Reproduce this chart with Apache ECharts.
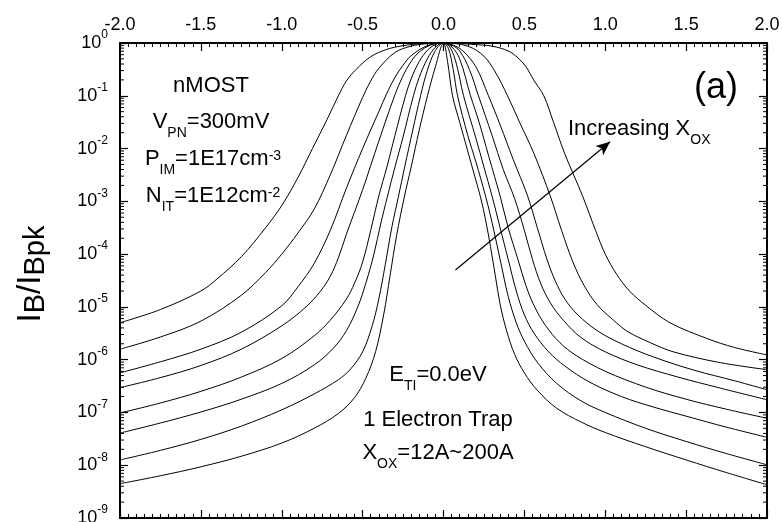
<!DOCTYPE html>
<html>
<head>
<meta charset="utf-8">
<script src="https://cdn.jsdelivr.net/npm/echarts@6/dist/echarts.min.js"></script>
<style>
  html, body { margin: 0; padding: 0; background: #fff; }
  #chart { width: 782px; height: 522px; }
</style>
</head>
<body>
<div id="chart"></div>
<script>
// Normalised bulk current I_B/I_Bpk versus V (one curve per oxide thickness,
// widest curve = thickest oxide). Points are [V, I_B/I_Bpk].
const trap1 = [[-2,5.01e-6],[-1.75,8.91e-6],[-1.5,2.00e-5],[-1.4,3.39e-5],[-1.25,8.91e-5],[-1.1,3.16e-4],[-1.0,8.32e-4],[-0.9,2.82e-3],[-0.81,1.0e-2],[-0.72,3.55e-2],[-0.65,0.1],[-0.6,0.191],[-0.54,0.316],[-0.45,0.55],[-0.35,0.759],[-0.25,0.891],[-0.15,0.966],[0,1],
  [0.1,0.977],[0.2,0.933],[0.3,0.871],[0.4,0.708],[0.46,0.525],[0.51,0.355],[0.557,0.2],[0.62,0.1],[0.68,3.16e-2],[0.75,7.94e-3],[0.86,1.26e-3],[0.94,2.82e-4],[1.0,1.0e-4],[1.07,4.17e-5],[1.15,2.0e-5],[1.25,1.07e-5],[1.4,5.01e-6],[1.63,2.51e-6],[1.8,1.70e-6],[2,1.23e-6]];
const trap2 = [[-2,1.58e-6],[-1.75,2.69e-6],[-1.5,5.37e-6],[-1.25,1.66e-5],[-1.1,4.47e-5],[-1.0,1.0e-4],[-0.9,2.51e-4],[-0.8,7.08e-4],[-0.7,3.16e-3],[-0.6,1.78e-2],[-0.5,9.33e-2],[-0.45,0.191],[-0.4,0.331],[-0.3,0.661],[-0.2,0.871],[-0.1,0.973],[0,1],
  [0.15,0.871],[0.25,0.562],[0.32,0.282],[0.396,0.1],[0.47,3.16e-2],[0.56,7.94e-3],[0.66,1.26e-3],[0.73,2.82e-4],[0.8,7.08e-5],[0.87,2.51e-5],[0.95,1.10e-5],[1.05,5.62e-6],[1.14,3.39e-6],[1.28,2.09e-6],[1.42,1.41e-6],[1.7,8.91e-7],[2,6.46e-7]];
const trap3 = [[-2,5.62e-7],[-1.75,9.12e-7],[-1.5,1.58e-6],[-1.25,3.31e-6],[-1.0,1.05e-5],[-0.9,2.40e-5],[-0.8,6.61e-5],[-0.7,2.82e-4],[-0.6,1.78e-3],[-0.5,1.0e-2],[-0.4,5.01e-2],[-0.35,0.112],[-0.3,0.224],[-0.25,0.38],[-0.2,0.575],[-0.1,0.891],[0,1],
  [0.06,0.912],[0.12,0.708],[0.2,0.355],[0.278,0.1],[0.35,2.82e-2],[0.43,6.31e-3],[0.52,1.26e-3],[0.58,3.16e-4],[0.64,7.94e-5],[0.69,3.16e-5],[0.75,1.41e-5],[0.83,7.08e-6],[0.95,3.55e-6],[1.1,2.0e-6],[1.3,1.12e-6],[1.55,6.31e-7],[1.8,3.98e-7],[2,2.69e-7]];
const trap4 = [[-2,2.95e-7],[-1.75,4.57e-7],[-1.5,7.76e-7],[-1.25,1.58e-6],[-1.0,4.37e-6],[-0.85,1.0e-5],[-0.76,2.0e-5],[-0.7,3.80e-5],[-0.65,8.51e-5],[-0.6,2.40e-4],[-0.5,1.66e-3],[-0.4,1.38e-2],[-0.3,0.105],[-0.25,0.24],[-0.2,0.447],[-0.15,0.676],[-0.08,0.912],[0,1],
  [0.05,0.912],[0.1,0.708],[0.16,0.316],[0.216,0.1],[0.3,1.78e-2],[0.37,3.98e-3],[0.44,1.12e-3],[0.5,2.82e-4],[0.55,7.94e-5],[0.6,2.82e-5],[0.66,1.20e-5],[0.74,5.62e-6],[0.85,2.63e-6],[1.0,1.41e-6],[1.2,7.94e-7],[1.45,4.68e-7],[1.7,2.95e-7],[2,1.74e-7]];
const trap5 = [[-2,9.77e-8],[-1.75,1.51e-7],[-1.5,2.51e-7],[-1.25,4.68e-7],[-1.0,1.05e-6],[-0.8,2.82e-6],[-0.7,5.62e-6],[-0.6,1.41e-5],[-0.55,2.82e-5],[-0.5,7.08e-5],[-0.45,2.82e-4],[-0.4,1.26e-3],[-0.35,4.47e-3],[-0.3,1.78e-2],[-0.235,0.1],[-0.2,0.209],[-0.15,0.447],[-0.1,0.724],[-0.05,0.933],[0,1],
  [0.05,0.851],[0.1,0.501],[0.167,0.1],[0.22,3.16e-2],[0.28,7.08e-3],[0.35,1.26e-3],[0.4,3.16e-4],[0.46,7.94e-5],[0.51,2.51e-5],[0.56,1.05e-5],[0.63,4.47e-6],[0.72,2.09e-6],[0.82,1.20e-6],[1.0,6.03e-7],[1.25,3.02e-7],[1.5,1.78e-7],[1.75,1.15e-7],[2,7.76e-8]];
const trap6 = [[-2,4.07e-8],[-1.75,6.31e-8],[-1.5,1.02e-7],[-1.25,1.78e-7],[-1.0,3.55e-7],[-0.8,7.94e-7],[-0.68,1.66e-6],[-0.6,3.55e-6],[-0.53,1.0e-5],[-0.48,2.82e-5],[-0.43,1.0e-4],[-0.39,3.55e-4],[-0.346,1.26e-3],[-0.3,4.47e-3],[-0.25,1.66e-2],[-0.186,0.1],[-0.15,0.224],[-0.1,0.501],[-0.05,0.832],[0,1],
  [0.04,0.832],[0.08,0.398],[0.124,0.1],[0.2,1.58e-2],[0.25,4.47e-3],[0.3,1.26e-3],[0.35,3.16e-4],[0.4,7.94e-5],[0.45,2.0e-5],[0.5,7.08e-6],[0.56,3.16e-6],[0.65,1.41e-6],[0.75,7.59e-7],[0.9,3.80e-7],[1.1,2.0e-7],[1.3,1.26e-7],[1.5,8.51e-8],[1.75,5.25e-8],[2,3.39e-8]];
const trap7 = [[-2,1.26e-8],[-1.75,1.91e-8],[-1.5,3.09e-8],[-1.25,5.50e-8],[-1.0,1.12e-7],[-0.8,2.24e-7],[-0.65,4.17e-7],[-0.575,6.61e-7],[-0.5,1.41e-6],[-0.44,4.47e-6],[-0.4,1.41e-5],[-0.36,6.31e-5],[-0.32,3.16e-4],[-0.278,1.26e-3],[-0.24,4.47e-3],[-0.19,2.24e-2],[-0.142,0.1],[-0.1,0.302],[-0.05,0.724],[0,1],
  [0.03,0.794],[0.06,0.316],[0.087,0.1],[0.15,1.78e-2],[0.2,5.62e-3],[0.26,1.26e-3],[0.3,3.98e-4],[0.35,7.94e-5],[0.4,1.58e-5],[0.45,5.01e-6],[0.5,2.24e-6],[0.58,8.91e-7],[0.7,3.55e-7],[0.85,1.66e-7],[1.0,1.0e-7],[1.25,5.01e-8],[1.5,2.82e-8],[1.75,1.66e-8],[2,1.02e-8]];
const trap8 = [[-2,4.47e-9],[-1.75,6.31e-9],[-1.5,9.33e-9],[-1.25,1.48e-8],[-1.0,2.63e-8],[-0.8,5.01e-8],[-0.65,9.55e-8],[-0.55,1.91e-7],[-0.48,4.47e-7],[-0.42,1.41e-6],[-0.37,7.08e-6],[-0.33,3.98e-5],[-0.29,2.24e-4],[-0.241,1.26e-3],[-0.2,4.47e-3],[-0.15,2.24e-2],[-0.099,0.1],[-0.05,0.355],[0,1],
  [0.025,0.447],[0.056,0.1],[0.1,3.16e-2],[0.15,8.91e-3],[0.2,2.51e-3],[0.229,1.20e-3],[0.26,4.47e-4],[0.29,1.41e-4],[0.32,3.98e-5],[0.35,1.12e-5],[0.39,3.55e-6],[0.44,1.26e-6],[0.5,5.62e-7],[0.58,2.63e-7],[0.7,1.20e-7],[0.85,6.61e-8],[1.0,4.17e-8],[1.25,2.24e-8],[1.5,1.26e-8],[1.75,7.24e-9],[2,4.27e-9]];

const curves = [trap1, trap2, trap3, trap4, trap5, trap6, trap7, trap8];

// "Increasing X_OX" arrow, from tail to head, in data coordinates.
const arrowTail = [0.074, 5.0e-5];
const arrowHead = [1.03, 1.35e-2];

// Axis ranges.
const xRange = [-2, 2];
const yRange = [1e-9, 1];
const yMantissas = [2, 3, 4, 5, 6, 7, 8, 9];

// Positions of the log-axis minor ticks (2..9 x 10^n inside every decade).
const minorTickValues = [];
for (let e = -9; e < 0; e++) {
  yMantissas.forEach(m => minorTickValues.push([xRange[0], Number((m * Math.pow(10, e)).toPrecision(3))]));
}

const FONT = "'Liberation Sans', Arial, Helvetica, sans-serif";
const INK = '#000';

const frameLine = { show: true, onZero: false, lineStyle: { color: INK, width: 2 } };

const xBase = {
  type: 'value', min: xRange[0], max: xRange[1], interval: 0.5,
  axisLine: frameLine,
  splitLine: { show: false },
  axisTick: { show: true, inside: true, length: 8, lineStyle: { color: INK, width: 1.2 } },
  minorTick: { show: true, splitNumber: 10, length: 4, lineStyle: { color: INK, width: 1 } }
};

const yBase = {
  type: 'log', logBase: 10, min: yRange[0], max: yRange[1], splitNumber: 9,
  axisLine: frameLine,
  splitLine: { show: false },
  minorTick: { show: false },
  axisTick: { show: true, inside: true, length: 8, lineStyle: { color: INK, width: 1.2 } }
};

// Rich-text styles for sub/superscripts.
const mainStyle = (size) => ({ fontSize: size, fontFamily: FONT, color: INK });
const subStyle = (size, drop) => ({ fontSize: size, fontFamily: FONT, color: INK, padding: [drop * 2, 0, 0, 0] });
const supStyle = (size, lift) => ({ fontSize: size, fontFamily: FONT, color: INK, padding: [0, 0, lift * 2, 0] });

const noteRich = { m: mainStyle(22), s: subStyle(14, 11), p: supStyle(14, 3) };

function note(x, y, text, align) {
  return {
    type: 'text', x, y, silent: true,
    style: { text, rich: noteRich, align: align || 'center', verticalAlign: 'middle', fill: INK, font: `22px ${FONT}` }
  };
}

const chart = echarts.init(document.getElementById('chart'), null, { renderer: 'canvas' });

chart.setOption({
  animation: false,
  backgroundColor: '#fff',
  grid: { left: 120, right: 15, top: 43, bottom: 4, containLabel: false, outerBoundsMode: 'none' },
  xAxis: [
    Object.assign({}, xBase, { position: 'bottom', axisLabel: { show: false } }),
    Object.assign({}, xBase, {
      position: 'top',
      axisLabel: { show: true, formatter: v => v.toFixed(1), fontSize: 18, fontFamily: FONT, color: INK, margin: 9 }
    })
  ],
  yAxis: [
    Object.assign({}, yBase, {
      position: 'left',
      axisLabel: {
        show: true, margin: 12,
        formatter: v => `{b|10}{s|${Math.round(Math.log10(v))}}`,
        rich: { b: mainStyle(18), s: supStyle(12, 8) }
      }
    }),
    Object.assign({}, yBase, { position: 'right', axisLabel: { show: false } })
  ],
  series: curves.map((data, i) => ({
    type: 'line', name: 'trap' + (i + 1), data,
    xAxisIndex: 0, yAxisIndex: 0,
    showSymbol: false, symbol: 'none', smooth: 0.35, clip: true, silent: true,
    lineStyle: { color: INK, width: 1 },
    markLine: i === 0 ? {
      silent: true, symbol: ['none', 'arrow'], symbolSize: [9, 14],
      lineStyle: { color: INK, width: 1.2, type: 'solid' },
      label: { show: false },
      data: [[{ coord: arrowTail }, { coord: arrowHead }]]
    } : undefined
  })).concat([{
    // log minor ticks on the left and right frame edges
    type: 'custom', xAxisIndex: 0, yAxisIndex: 0, silent: true, clip: false,
    data: minorTickValues,
    encode: { x: 0, y: 1 },
    renderItem(params, api) {
      const v = api.value(1);
      const l = api.coord([xRange[0], v]);
      const r = api.coord([xRange[1], v]);
      return {
        type: 'group', children: [
          { type: 'line', shape: { x1: l[0], y1: l[1], x2: l[0] + 4, y2: l[1] }, style: { stroke: INK, lineWidth: 1 } },
          { type: 'line', shape: { x1: r[0] - 4, y1: r[1], x2: r[0], y2: r[1] }, style: { stroke: INK, lineWidth: 1 } }
        ]
      };
    }
  }]),
  graphic: [
    note(211, 86, '{m|nMOST}'),
    note(211, 122, '{m|V}{s|PN}{m|=300mV}'),
    note(213, 159, '{m|P}{s|IM}{m|=1E17cm}{p|-3}'),
    note(213, 196, '{m|N}{s|IT}{m|=1E12cm}{p|-2}'),
    note(438, 375, '{m|E}{s|TI}{m|=0.0eV}'),
    note(438, 420, '{m|1 Electron Trap}'),
    note(438, 453, '{m|X}{s|OX}{m|=12A~200A}'),
    note(568, 129, '{m|Increasing X}{s|OX}', 'left'),
    {
      type: 'text', x: 716, y: 88, silent: true,
      style: { text: '(a)', align: 'center', verticalAlign: 'middle', fill: INK, font: `36px ${FONT}` }
    },
    {
      type: 'text', x: 31, y: 274, rotation: Math.PI / 2, silent: true,
      style: {
        text: '{m|I}{s|B}{m|/I}{s|Bpk}', align: 'center', verticalAlign: 'middle', fill: INK,
        rich: { m: mainStyle(33), s: subStyle(29, 5) }
      }
    }
  ]
});
</script>
</body>
</html>
